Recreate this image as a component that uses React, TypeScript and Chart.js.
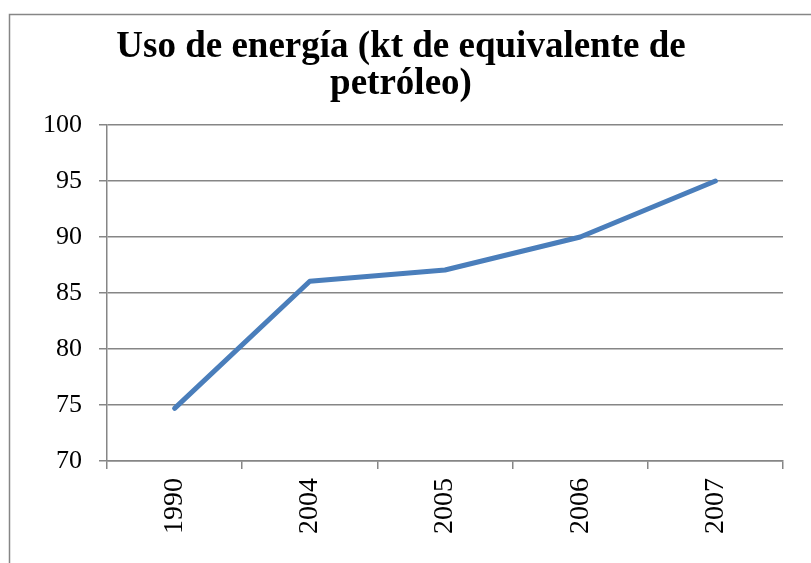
import React, { useEffect, useRef } from "react";
import { Chart, registerables } from "chart.js";

Chart.register(...registerables);

const years = ["1990", "2004", "2005", "2006", "2007"];
const energyUse = [74.7, 86.05, 87.05, 90.0, 95.0];
const titleLines = ["Uso de energía (kt de equivalente de", "petróleo)"];
const yMin = 70;
const yMax = 100;
const yStep = 5;

const GRID = "#868686";

const framePlugin = {
  id: "frame",
  beforeDraw(chart: any) {
    const ctx = chart.ctx;
    ctx.save();
    ctx.strokeStyle = GRID;
    ctx.lineWidth = 1.5;
    ctx.strokeRect(9.5, 14.5, 1000, 1000);
    ctx.restore();
  },
};

export default function App() {
  const ref = useRef<HTMLCanvasElement | null>(null);
  useEffect(() => {
    if (!ref.current) return;
    const chart = new Chart(ref.current, {
      type: "line",
      data: {
        labels: years,
        datasets: [
          {
            data: energyUse,
            borderColor: "#4a7ebb",
            borderWidth: 5,
            borderCapStyle: "round",
            borderJoinStyle: "round",
            pointRadius: 0,
            tension: 0,
            fill: false,
          },
        ],
      },
      options: {
        responsive: false,
        animation: false,
        layout: { padding: { left: 19, right: 28, top: 0, bottom: 0 } },
        plugins: {
          legend: { display: false },
          tooltip: { enabled: false },
          title: {
            display: true,
            text: titleLines,
            color: "#000",
            font: { family: "'Liberation Serif', serif", weight: "bold", size: 37, lineHeight: 1.0 },
            padding: { top: 29, bottom: 22 },
          },
        },
        scales: {
          x: {
            offset: true,
            afterFit(scale: any) {
              scale.height = 102;
            },
            grid: {
              display: true,
              offset: true,
              drawOnChartArea: false,
              drawTicks: true,
              tickLength: 8,
              color: GRID,
              lineWidth: 1.5,
            },
            border: { display: true, color: GRID, width: 1.5 },
            ticks: {
              minRotation: 90,
              maxRotation: 90,
              padding: 9,
              color: "#000",
              font: { family: "'Liberation Serif', serif", size: 28 },
            },
          },
          y: {
            min: yMin,
            max: yMax,
            afterFit(scale: any) {
              scale.width = 88;
            },
            grid: {
              display: true,
              drawOnChartArea: true,
              drawTicks: true,
              tickLength: 8,
              color: GRID,
              lineWidth: 1.5,
            },
            border: { display: true, color: GRID, width: 1.5 },
            ticks: {
              stepSize: yStep,
              padding: 17,
              color: "#000",
              font: { family: "'Liberation Serif', serif", size: 26 },
            },
          },
        },
      },
      plugins: [framePlugin],
    });
    return () => chart.destroy();
  }, []);
  return (
    <div style={{ position: "absolute", left: 0, top: 0, width: 811, height: 563, background: "#fff" }}>
      <canvas ref={ref} width={811} height={563} style={{ display: "block" }} />
    </div>
  );
}
